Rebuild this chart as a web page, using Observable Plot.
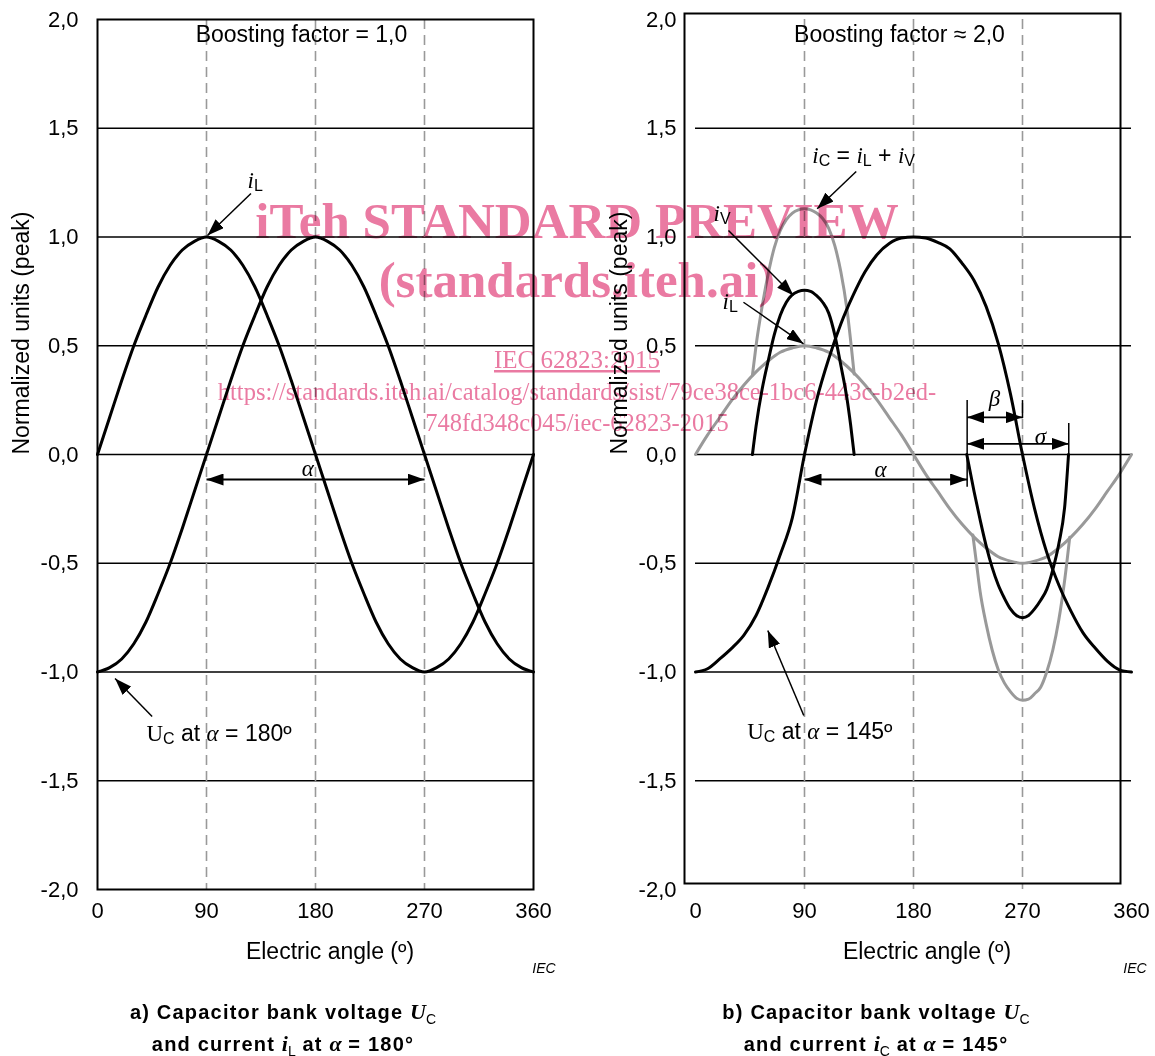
<!DOCTYPE html>
<html><head><meta charset="utf-8">
<script src="https://cdn.jsdelivr.net/npm/d3@7"></script>
<script src="https://cdn.jsdelivr.net/npm/@observablehq/plot@0.6"></script>
<style>
body{margin:0;background:#fff;width:1155px;height:1056px;position:relative;overflow:hidden;font-family:'Liberation Sans',Arial,sans-serif;color:#000}
.panel{position:absolute;top:0}
.it{font-family:'Liberation Serif','Times New Roman',serif;font-style:italic}
.sv{font-family:'Liberation Serif','Times New Roman',serif}
.sb{font-size:16px;font-family:'Liberation Sans',Arial,sans-serif;font-style:normal}
.xt{position:absolute;font-size:23px;transform:translateX(-50%);white-space:nowrap;top:937px;line-height:28px}
.iec{position:absolute;font-size:14px;font-style:italic;transform:translateX(-50%);top:960px;line-height:16px}
.cap{position:absolute;top:996px;width:440px;text-align:center;font-weight:bold;font-size:20px;letter-spacing:1.2px;line-height:31px;white-space:nowrap}
.cap .ui{font-family:'Liberation Serif',serif;font-style:italic;font-size:22px;letter-spacing:0}
.cap sub{font-size:14px;font-weight:normal;vertical-align:-5px;line-height:0;letter-spacing:0}
#wm{position:absolute;left:0;top:0;pointer-events:none;mix-blend-mode:multiply}
</style></head>
<body>
<div id="pa" class="panel" style="left:0"></div>
<div id="pb" class="panel" style="left:580px"></div>

<div class="xt" style="left:330px">Electric angle (º)</div>
<div class="xt" style="left:927px">Electric angle (º)</div>
<div class="iec" style="left:544px">IEC</div>
<div class="iec" style="left:1135px">IEC</div>

<div class="cap" style="left:63px">
  <div>a) Capacitor bank voltage <span class="ui">U</span><sub>C</sub></div>
  <div>and current <span class="ui">i</span><sub>L</sub> at <span class="ui">α</span> = 180°</div>
</div>
<div class="cap" style="left:656px">
  <div>b) Capacitor bank voltage <span class="ui">U</span><sub>C</sub></div>
  <div>and current <span class="ui">i</span><sub>C</sub> at <span class="ui">α</span> = 145°</div>
</div>

<svg id="wm" width="1155" height="1056">
  <g fill="#ea7aa2" font-family="'Liberation Serif','Times New Roman',serif" text-anchor="middle">
    <text x="577" y="238" font-size="51" font-weight="bold">iTeh STANDARD PREVIEW</text>
    <text x="577" y="297" font-size="51" font-weight="bold">(standards.iteh.ai)</text>
    <text x="577" y="368" font-size="25" text-decoration="underline">IEC 62823:2015</text>
    <text x="577" y="400" font-size="24.5">https://standards.iteh.ai/catalog/standards/sist/79ce38ce-1bc6-443c-b2ed-</text>
    <text x="577" y="431" font-size="24.5">748fd348c045/iec-62823-2015</text>
  </g>
</svg>

<script>
// ---------- data ----------
const xTicks = [0, 90, 180, 270, 360];
const yTicks = [-2, -1.5, -1, -0.5, 0, 0.5, 1, 1.5, 2];
const gridLevels = [-1.5, -1, -0.5, 0, 0.5, 1, 1.5];
const phaseLines = [90, 180, 270];

const angles = [0,10,20,30,40,50,60,70,80,90,100,110,120,130,140,150,160,170,180,
                190,200,210,220,230,240,250,260,270,280,290,300,310,320,330,340,350,360];

// panel a
const aIL = [0,0.17,0.34,0.5,0.64,0.77,0.87,0.94,0.98,1,0.98,0.94,0.87,0.77,0.64,0.5,0.34,0.17,0,
             -0.17,-0.34,-0.5,-0.64,-0.77,-0.87,-0.94,-0.98,-1,-0.98,-0.94,-0.87,-0.77,-0.64,-0.5,-0.34,-0.17,0];
const aUC = [-1,-0.98,-0.94,-0.87,-0.77,-0.64,-0.5,-0.34,-0.17,0,0.17,0.34,0.5,0.64,0.77,0.87,0.94,0.98,1,
             0.98,0.94,0.87,0.77,0.64,0.5,0.34,0.17,0,-0.17,-0.34,-0.5,-0.64,-0.77,-0.87,-0.94,-0.98,-1];

// panel b
const bIL = [0,0.09,0.17,0.25,0.32,0.38,0.43,0.47,0.49,0.5,0.49,0.47,0.43,0.38,0.32,0.25,0.17,0.09,0,
             -0.09,-0.17,-0.25,-0.32,-0.38,-0.43,-0.47,-0.49,-0.5,-0.49,-0.47,-0.43,-0.38,-0.32,-0.25,-0.17,-0.09,0];
const bUC = [-1,-0.985,-0.94,-0.89,-0.83,-0.74,-0.61,-0.46,-0.29,0,0.25,0.44,0.6,0.73,0.84,0.92,0.97,0.995,1,
             0.995,0.975,0.945,0.88,0.8,0.68,0.51,0.28,0,-0.25,-0.45,-0.6,-0.72,-0.82,-0.89,-0.95,-0.99,-1];

const bIVposAngles = [47,50,55,60,65,70,75,80,85,90,95,100,105,110,115,120,125,128,131];
const bIVpos       = [0,0.13,0.30,0.43,0.55,0.64,0.70,0.735,0.75,0.755,0.75,0.73,0.70,0.65,0.55,0.41,0.26,0.14,0];
const bIVnegAngles = [224,230,235,240,245,250,255,260,265,270,275,280,285,290,295,300,305,308];
const bIVneg       = [0,-0.17,-0.30,-0.42,-0.52,-0.60,-0.66,-0.71,-0.74,-0.75,-0.74,-0.71,-0.67,-0.62,-0.53,-0.41,-0.23,0];

const bICposAngles = [47,50,55,60,65,70,75,80,85,90,95,100,105,110,115,120,125,131];
const bICpos       = [0.365,0.50,0.68,0.83,0.95,1.03,1.08,1.11,1.125,1.13,1.125,1.11,1.085,1.04,0.96,0.84,0.67,0.37];
const bICnegAngles = [229,232,235,240,245,250,255,260,265,270,275,280,285,290,295,300,305,309];
const bICneg       = [-0.37,-0.50,-0.63,-0.78,-0.90,-0.99,-1.05,-1.09,-1.12,-1.13,-1.125,-1.10,-1.07,-1.00,-0.90,-0.76,-0.57,-0.38];

// annotations (data units: angle, normalized value)
const aLabels = [
  {x: 168.4, y: 1.93, text: "Boosting factor = 1,0", anchor: "middle"},
  {x: 123.9, y: 1.26, text: "iL", anchor: "start"},
  {x: 40.4, y: -1.283, text: "UC at α = 180º", anchor: "start"},
  {x: 173.6, y: -0.066, text: "α", anchor: "middle"}
];
const aArrows = [
  {x1: 126.7, y1: 1.20, x2: 90.8, y2: 1.007},
  {x1: 45.1, y1: -1.205, x2: 14.5, y2: -1.03}
];
const aSpans = [{x1: 90, x2: 270, y: -0.115}];
const aTicks = [];

const bLabels = [
  {x: 168.4, y: 1.93, text: "Boosting factor ≈ 2,0", anchor: "middle"},
  {x: 96.4, y: 1.375, text: "iC = iL + iV", anchor: "start"},
  {x: 14.9, y: 1.108, text: "iV", anchor: "start"},
  {x: 22.3, y: 0.703, text: "iL", anchor: "start"},
  {x: 42.7, y: -1.274, text: "UC at α = 145º", anchor: "start"},
  {x: 152.8, y: -0.07, text: "α", anchor: "middle"},
  {x: 246.9, y: 0.257, text: "β", anchor: "middle"},
  {x: 284.9, y: 0.083, text: "σ", anchor: "middle"}
];
const bArrows = [
  {x1: 132.7, y1: 1.301, x2: 100.5, y2: 1.13},
  {x1: 27.2, y1: 1.03, x2: 80.9, y2: 0.731},
  {x1: 39.6, y1: 0.70, x2: 89.2, y2: 0.509},
  {x1: 89.4, y1: -1.20, x2: 59.7, y2: -0.809}
];
const bSpans = [
  {x1: 90, x2: 224.3, y: -0.115},
  {x1: 224.3, x2: 270, y: 0.171},
  {x1: 224.3, x2: 308.2, y: 0.049}
];
const bTicks = [
  {x: 224.3, y1: -0.15, y2: 0.248},
  {x: 270, y1: 0.165, y2: 0.248},
  {x: 308.2, y1: 0, y2: 0.143}
];

// ---------- rendering ----------
const BLACK = "#000", GRAY = "#999999";
const fmt = d => d.toFixed(1).replace(".", ",");
const pts = (xs, ys) => xs.map((x, i) => ({x, y: ys[i]}));

const SUB = s => `<tspan class="sb" dy="3">${s}</tspan>`;
const BACK = t => `<tspan dy="-3">${t}</tspan>`;
const I = s => `<tspan class="it">${s}</tspan>`;
const rich = {
  "iL": I("i") + SUB("L"),
  "iV": I("i") + SUB("V"),
  "iC = iL + iV": I("i") + SUB("C") + BACK(" = ") + I("i") + SUB("L") + BACK(" + ") + I("i") + SUB("V"),
  "UC at α = 180º": `<tspan class="sv">U</tspan>` + SUB("C") + BACK(" at ") + I("α") + `<tspan> = 180º</tspan>`,
  "UC at α = 145º": `<tspan class="sv">U</tspan>` + SUB("C") + BACK(" at ") + I("α") + `<tspan> = 145º</tspan>`,
  "α": I("α"), "β": I("β"), "σ": I("σ")
};

function panel({width, marginLeft, marginRight, frameDx, frameDy, curves, labels, arrows, spans, ticks}) {
  const root = Plot.plot({
    width, height: 930, marginLeft, marginRight, marginTop: 19, marginBottom: 41,
    style: {background: "transparent", fontFamily: "'Liberation Sans', Arial, sans-serif", fontSize: "22px", color: "#000", overflow: "visible"},
    x: {domain: [0, 360], ticks: xTicks, tickSize: 0, tickPadding: 13, label: null},
    y: {domain: [-2, 2], ticks: yTicks, tickFormat: fmt, tickSize: 0, tickPadding: 19, label: null},
    marks: [
      Plot.ruleY(gridLevels, {x1: 0, x2: 360, stroke: BLACK, strokeWidth: 1.6}),
      Plot.ruleX(phaseLines, {stroke: GRAY, strokeWidth: 1.6, strokeDasharray: "10,6"}),
      ...curves.map(c => Plot.line(pts(c.x, c.y), {x: "x", y: "y", stroke: c.color, strokeWidth: 3, curve: "monotone-x",
                                                    strokeLinejoin: "round", strokeLinecap: "round"})),
      Plot.frame({stroke: BLACK, strokeWidth: 2, dx: frameDx, dy: frameDy}),
      Plot.ruleX(ticks, {x: "x", y1: "y1", y2: "y2", stroke: BLACK, strokeWidth: 1.5}),
      Plot.link(arrows, {x1: "x1", y1: "y1", x2: "x2", y2: "y2", stroke: BLACK, strokeWidth: 1.5, markerEnd: "arrow"}),
      Plot.link(spans, {x1: "x1", x2: "x2", y1: "y", y2: "y", stroke: BLACK, strokeWidth: 1.8,
                        markerStart: "arrow", markerEnd: "arrow"}),
      Plot.text(labels.filter(d => d.anchor === "start"), {x: "x", y: "y", text: "text", textAnchor: "start", fontSize: 23}),
      Plot.text(labels.filter(d => d.anchor === "middle"), {x: "x", y: "y", text: "text", textAnchor: "middle", fontSize: 23}),
      Plot.text(["Normalized units (peak)"], {text: d => d, frameAnchor: "left", dx: -76, rotate: -90, fontSize: 23})
    ]
  });
  const svg = root.tagName.toLowerCase() === "svg" ? root : root.querySelector("svg");
  svg.querySelectorAll("marker").forEach(m => {
    m.setAttribute("viewBox", "-17 -6 17 12");
    m.setAttribute("markerWidth", 17);
    m.setAttribute("markerHeight", 12);
    m.setAttribute("markerUnits", "userSpaceOnUse");
    m.setAttribute("orient", "auto-start-reverse");
    m.setAttribute("refX", 0);
    m.setAttribute("refY", 0);
    m.setAttribute("fill", BLACK);
    m.setAttribute("stroke", "none");
    m.innerHTML = '<path d="M0,0L-17,-6L-17,6Z"/>';
  });
  svg.querySelectorAll("text").forEach(t => {
    const r = rich[t.textContent];
    if (r) { t.innerHTML = r; t.style.whiteSpace = "pre"; }
  });
  return root;
}

document.getElementById("pa").appendChild(panel({
  width: 580, marginLeft: 97, marginRight: 47, frameDx: 0, frameDy: 0,
  curves: [
    {x: angles, y: aIL, color: BLACK},
    {x: angles, y: aUC, color: BLACK}
  ],
  labels: aLabels, arrows: aArrows, spans: aSpans, ticks: aTicks
}));

document.getElementById("pb").appendChild(panel({
  width: 575, marginLeft: 115, marginRight: 24, frameDx: -11, frameDy: -6,
  curves: [
    {x: angles, y: bIL, color: GRAY},
    {x: bICposAngles, y: bICpos, color: GRAY},
    {x: bICnegAngles, y: bICneg, color: GRAY},
    {x: bIVposAngles, y: bIVpos, color: BLACK},
    {x: bIVnegAngles, y: bIVneg, color: BLACK},
    {x: angles, y: bUC, color: BLACK}
  ],
  labels: bLabels, arrows: bArrows, spans: bSpans, ticks: bTicks
}));
</script>
</body></html>
